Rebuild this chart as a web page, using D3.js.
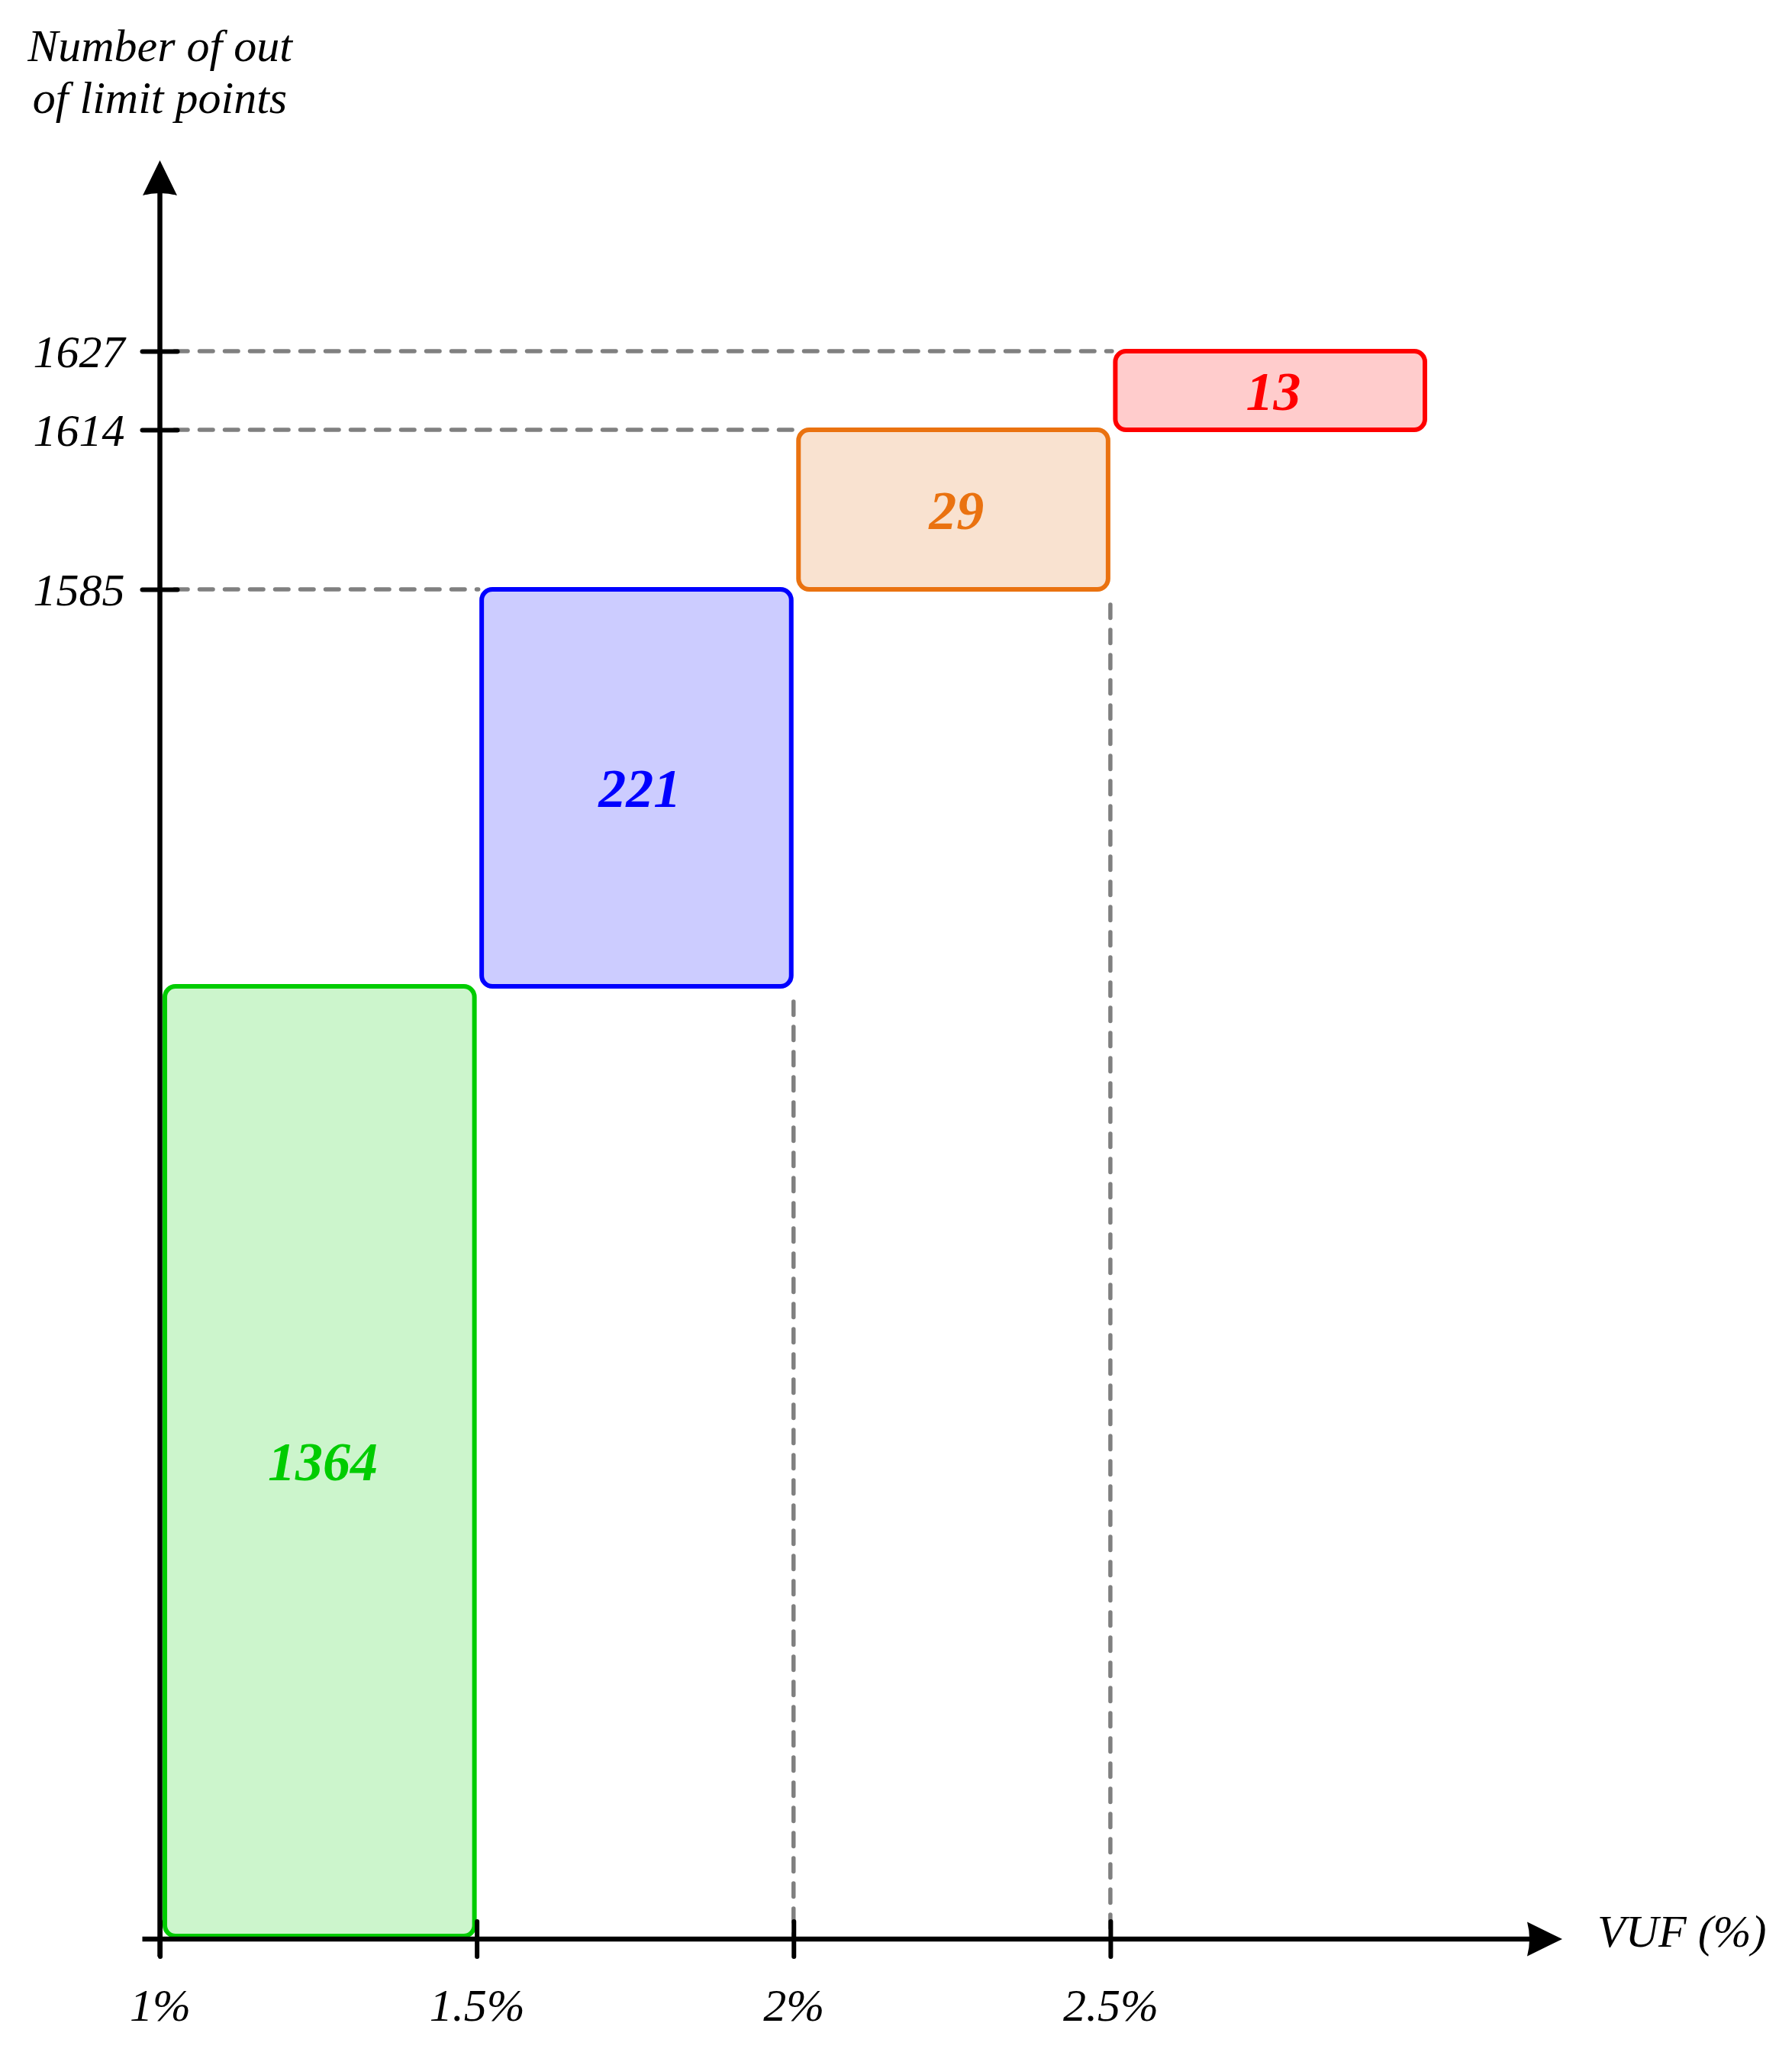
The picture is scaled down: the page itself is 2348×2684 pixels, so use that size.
<!DOCTYPE html>
<html>
<head>
<meta charset="utf-8">
<script src="https://cdn.jsdelivr.net/npm/d3@7"></script>
<style>
  body { margin: 0; background: #fff; }
  text { font-family: "Liberation Serif", "DejaVu Serif", serif; font-style: italic; }
</style>
</head>
<body>
<svg id="chart"></svg>
<script>
// out of limit points per VUF band (schematic, stacked upwards)
var binStart = [1, 1.5, 2, 2.5]
var binEnd = [1.5, 2, 2.5, 3]
var counts = [1364, 221, 29, 13]
var xTicks = [1, 1.5, 2, 2.5]
var xTickLabels = ["1%", "1.5%", "2%", "2.5%"]
var yTicks = [1585, 1614, 1627]
var yTitle = ["Number of out", "of limit points"]
var xTitle = "VUF (%)"

var strokeCols = ["#00cc00", "#0000ff", "#ea7210", "#ff0000"]
var fillCols = ["#ccf5cc", "#ccccff", "#f9e2d0", "#ffcccc"]

function render() {
  var width = 2348, height = 2684

  var tops = d3.cumsum(counts)            // 1364, 1585, 1614, 1627
  var bottoms = [0].concat(Array.from(tops).slice(0, -1))

  var x = d3.scaleLinear()
    .domain([1, 3])
    .range([209.5, 1870])

  // the drawing is not to scale : one linear piece per band
  var y = d3.scaleLinear()
    .domain([0].concat(Array.from(tops)))
    .range([2536, 1292, 772, 563, 460])

  var axisY = y(0) + 4   // x axis sits just under the boxes
  var axisX = x(1)
  var tick = 23

  var svg = d3.select("#chart")
    .attr("width", width)
    .attr("height", height)
    .attr("viewBox", [0, 0, width, height])

  var bands = counts.map((c, i) => ({
    count: c, x0: binStart[i], x1: binEnd[i], y0: bottoms[i], y1: tops[i],
    stroke: strokeCols[i], fill: fillCols[i]
  }))

  // dashed guides
  var guides = svg.append("g")
    .attr("fill", "none")
    .attr("stroke", "#808080")
    .attr("stroke-width", 5.5)
    .attr("stroke-linecap", "round")
    .style("stroke-dasharray", "17.5 15.5")

  guides.selectAll("path.h")
    .data(bands.slice(1))
    .join("path")
    .classed("h", true)
    .attr("d", d => d3.line()([[axisX + 19, y(d.y1)], [x(d.x0) + 2, y(d.y1)]]))

  guides.selectAll("path.v")
    .data(bands.slice(1, 3))
    .join("path")
    .classed("v", true)
    .attr("d", d => d3.line()([[x(d.x1), y(d.y0) + 20], [x(d.x1), axisY - 4]]))

  // boxes
  svg.append("g")
    .selectAll("rect")
    .data(bands)
    .join("rect")
    .attr("x", d => x(d.x0) + 6.5)
    .attr("y", d => y(d.y1))
    .attr("width", d => x(d.x1) - x(d.x0) - 9.5)
    .attr("height", d => y(d.y0) - y(d.y1))
    .attr("rx", 14)
    .attr("fill", d => d.fill)
    .attr("stroke", d => d.stroke)
    .attr("stroke-width", 6)

  svg.append("g")
    .selectAll("text")
    .data(bands)
    .join("text")
    .attr("x", d => (x(d.x0) + x(d.x1)) / 2 + 6)
    .attr("y", d => (y(d.y0) + y(d.y1)) / 2 + 25)
    .attr("text-anchor", "middle")
    .attr("font-size", 72)
    .attr("font-weight", "bold")
    .attr("fill", d => d.stroke)
    .text(d => d.count)

  // axes
  var xAxis = g => g
    .attr("transform", `translate(0,${axisY})`)
    .call(d3.axisBottom(x).tickValues(xTicks).tickSize(tick).tickFormat((d, i) => xTickLabels[i]))
    .call(g => g.select(".domain").remove())
    .call(g => g.attr("font-size", 60).attr("font-family", null))
    .call(g => g.selectAll(".tick line")
      .attr("y1", -tick).attr("stroke", "#000").attr("stroke-width", 6).attr("stroke-linecap", "round"))
    .call(g => g.selectAll(".tick text")
      .attr("y", 107).attr("dy", null).attr("fill", "#000"))

  var yAxis = g => g
    .attr("transform", `translate(${axisX},0)`)
    .call(d3.axisLeft(y).tickValues(yTicks).tickSize(tick).tickFormat(d3.format("d")))
    .call(g => g.select(".domain").remove())
    .call(g => g.attr("font-size", 60).attr("font-family", null))
    .call(g => g.selectAll(".tick line")
      .attr("x1", tick).attr("stroke", "#000").attr("stroke-width", 6).attr("stroke-linecap", "round"))
    .call(g => g.selectAll(".tick text")
      .attr("x", -46).attr("y", 20).attr("dy", null).attr("fill", "#000"))

  svg.append("g").call(xAxis)
  svg.append("g").call(yAxis)

  var axes = svg.append("g")
    .attr("stroke", "#000")
    .attr("stroke-width", 6.5)

  axes.append("path")
    .attr("d", d3.line()([[axisX - tick, axisY], [2010, axisY]]))
  axes.append("path")
    .attr("d", d3.line()([[axisX, axisY + tick], [axisX, 250]]))

  // arrow heads
  var tipX = [2047, axisY], tipY = [axisX, 210]
  svg.append("path")
    .attr("fill", "#000")
    .attr("d", `M${tipX[0]},${tipX[1]} L${tipX[0] - 46},${tipX[1] - 22.5} Q${tipX[0] - 40},${tipX[1]} ${tipX[0] - 46},${tipX[1] + 22.5} Z`)
  svg.append("path")
    .attr("fill", "#000")
    .attr("d", `M${tipY[0]},${tipY[1]} L${tipY[0] - 22.5},${tipY[1] + 46} Q${tipY[0]},${tipY[1] + 40} ${tipY[0] + 22.5},${tipY[1] + 46} Z`)

  // titles
  svg.append("text")
    .attr("x", tipX[0] + 46)
    .attr("y", axisY + 10)
    .attr("font-size", 60)
    .text(xTitle)

  svg.append("g")
    .selectAll("text")
    .data(yTitle)
    .join("text")
    .attr("x", axisX)
    .attr("y", (d, i) => 80 + i * 68)
    .attr("text-anchor", "middle")
    .attr("font-size", 60)
    .text(d => d)
}

render()
</script>
</body>
</html>
